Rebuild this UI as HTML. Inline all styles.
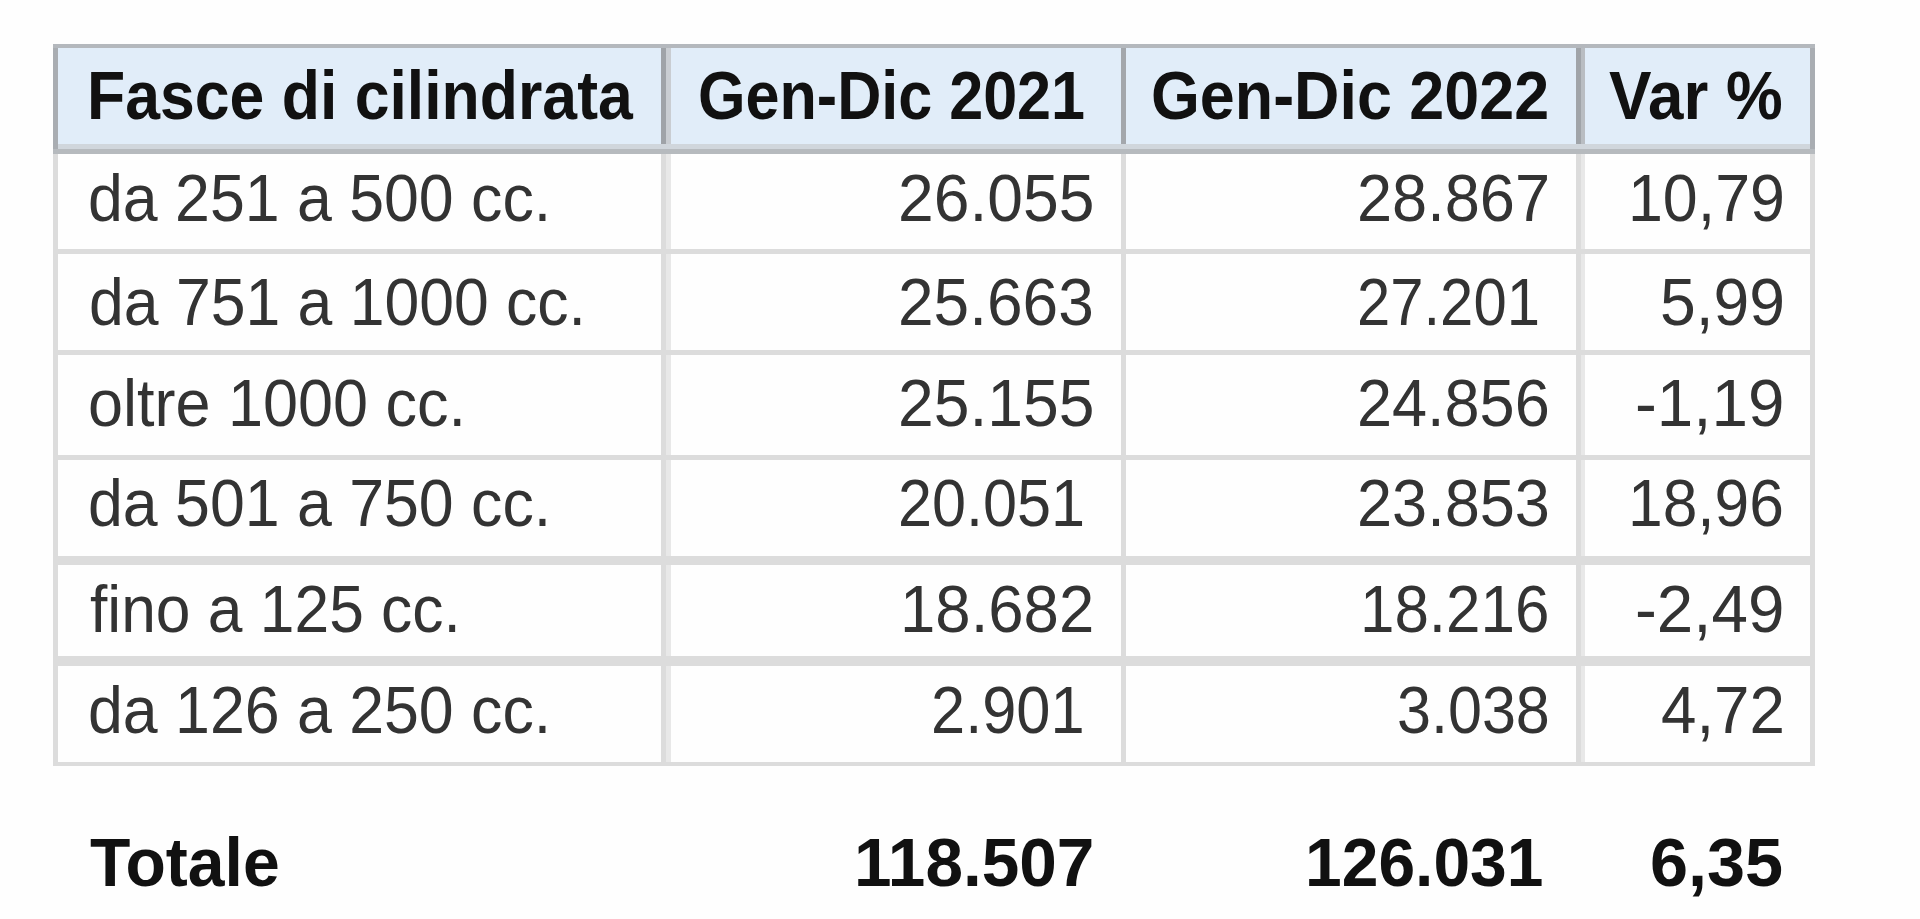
<!DOCTYPE html>
<html><head><meta charset="utf-8"><title>Fasce di cilindrata</title>
<style>
html,body{margin:0;padding:0;width:1920px;height:919px;overflow:hidden;background:#fefefe;}
.r{position:absolute}
.t{position:absolute;white-space:pre;line-height:1;font-family:"Liberation Sans",sans-serif}
</style></head><body>
<div class="r" style="left:53px;top:44px;width:1762px;height:110px;background:#e1edf9"></div>
<div class="r" style="left:53px;top:44px;width:1762px;height:4px;background:#b4b8bd"></div>
<div class="r" style="left:53px;top:48px;width:5px;height:106px;background:#a9adb2"></div>
<div class="r" style="left:1810px;top:48px;width:5px;height:106px;background:#a9adb2"></div>
<div class="r" style="left:661px;top:48px;width:5px;height:106px;background:#9fa3a8"></div>
<div class="r" style="left:666px;top:48px;width:5px;height:106px;background:#c9cdd2"></div>
<div class="r" style="left:1121px;top:48px;width:5px;height:106px;background:#a3a7ac"></div>
<div class="r" style="left:1576px;top:48px;width:5px;height:106px;background:#a0a4a9"></div>
<div class="r" style="left:1581px;top:48px;width:4px;height:106px;background:#b9bdc2"></div>
<div class="r" style="left:58px;top:144px;width:1752px;height:5px;background:#d0d6dc"></div>
<div class="r" style="left:53px;top:149px;width:1762px;height:5px;background:#b6babe"></div>
<div class="r" style="left:53px;top:154px;width:5px;height:612px;background:#dcdcdc"></div>
<div class="r" style="left:1810px;top:154px;width:5px;height:612px;background:#dcdcdc"></div>
<div class="r" style="left:661px;top:154px;width:5px;height:612px;background:#dcdcdc"></div>
<div class="r" style="left:666px;top:154px;width:5px;height:612px;background:#e8e8e8"></div>
<div class="r" style="left:1121px;top:154px;width:5px;height:612px;background:#dcdcdc"></div>
<div class="r" style="left:1576px;top:154px;width:5px;height:612px;background:#dcdcdc"></div>
<div class="r" style="left:1581px;top:154px;width:4px;height:612px;background:#e8e8e8"></div>
<div class="r" style="left:53px;top:249px;width:1762px;height:5px;background:#dcdcdc"></div>
<div class="r" style="left:53px;top:350px;width:1762px;height:5px;background:#dcdcdc"></div>
<div class="r" style="left:53px;top:455px;width:1762px;height:5px;background:#dcdcdc"></div>
<div class="r" style="left:53px;top:556px;width:1762px;height:9px;background:#dcdcdc"></div>
<div class="r" style="left:53px;top:656px;width:1762px;height:10px;background:#dcdcdc"></div>
<div class="r" style="left:53px;top:762px;width:1762px;height:4px;background:#dcdcdc"></div>
<div class="t" style="left:86.93px;top:61.09px;font-size:69px;font-weight:bold;color:#111;transform-origin:0 58.41px;transform:scaleX(0.9065)">Fasce di cilindrata</div>
<div class="t" style="left:697.56px;top:61.09px;font-size:69px;font-weight:bold;color:#111;transform-origin:0 58.41px;transform:scaleX(0.8853)">Gen-Dic 2021</div>
<div class="t" style="left:1151.49px;top:61.09px;font-size:69px;font-weight:bold;color:#111;transform-origin:0 58.41px;transform:scaleX(0.9106)">Gen-Dic 2022</div>
<div class="t" style="left:1608.86px;top:61.09px;font-size:69px;font-weight:bold;color:#111;transform-origin:0 58.41px;transform:scaleX(0.9240)">Var %</div>
<div class="t" style="left:88.49px;top:164.83px;font-size:66px;color:#333333;transform-origin:0 55.87px;transform:scaleX(0.9489)">da 251 a 500 cc.</div>
<div class="t" style="left:897.79px;top:164.83px;font-size:66px;color:#333333;transform-origin:0 55.87px;transform:scaleX(0.9730)">26.055</div>
<div class="t" style="left:1356.84px;top:164.83px;font-size:66px;color:#333333;transform-origin:0 55.87px;transform:scaleX(0.9562)">28.867</div>
<div class="t" style="left:1628.30px;top:164.83px;font-size:66px;color:#333333;transform-origin:0 55.87px;transform:scaleX(0.9498)">10,79</div>
<div class="t" style="left:88.50px;top:269.43px;font-size:66px;color:#333333;transform-origin:0 55.87px;transform:scaleX(0.9469)">da 751 a 1000 cc.</div>
<div class="t" style="left:897.80px;top:269.43px;font-size:66px;color:#333333;transform-origin:0 55.87px;transform:scaleX(0.9699)">25.663</div>
<div class="t" style="left:1357.01px;top:269.43px;font-size:66px;color:#333333;transform-origin:0 55.87px;transform:scaleX(0.9060)">27.201</div>
<div class="t" style="left:1659.93px;top:269.43px;font-size:66px;color:#333333;transform-origin:0 55.87px;transform:scaleX(0.9734)">5,99</div>
<div class="t" style="left:88.48px;top:370.13px;font-size:66px;color:#333333;transform-origin:0 55.87px;transform:scaleX(0.9537)">oltre 1000 cc.</div>
<div class="t" style="left:897.79px;top:370.13px;font-size:66px;color:#333333;transform-origin:0 55.87px;transform:scaleX(0.9730)">25.155</div>
<div class="t" style="left:1356.85px;top:370.13px;font-size:66px;color:#333333;transform-origin:0 55.87px;transform:scaleX(0.9546)">24.856</div>
<div class="t" style="left:1635.45px;top:370.13px;font-size:66px;color:#333333;transform-origin:0 55.87px;transform:scaleX(0.9930)">-1,19</div>
<div class="t" style="left:88.49px;top:470.43px;font-size:66px;color:#333333;transform-origin:0 55.87px;transform:scaleX(0.9489)">da 501 a 750 cc.</div>
<div class="t" style="left:897.94px;top:470.43px;font-size:66px;color:#333333;transform-origin:0 55.87px;transform:scaleX(0.9265)">20.051</div>
<div class="t" style="left:1356.85px;top:470.43px;font-size:66px;color:#333333;transform-origin:0 55.87px;transform:scaleX(0.9556)">23.853</div>
<div class="t" style="left:1628.33px;top:470.43px;font-size:66px;color:#333333;transform-origin:0 55.87px;transform:scaleX(0.9440)">18,96</div>
<div class="t" style="left:90.07px;top:575.63px;font-size:66px;color:#333333;transform-origin:0 55.87px;transform:scaleX(0.9444)">fino a 125 cc.</div>
<div class="t" style="left:900.24px;top:575.63px;font-size:66px;color:#333333;transform-origin:0 55.87px;transform:scaleX(0.9623)">18.682</div>
<div class="t" style="left:1360.36px;top:575.63px;font-size:66px;color:#333333;transform-origin:0 55.87px;transform:scaleX(0.9380)">18.216</div>
<div class="t" style="left:1635.45px;top:575.63px;font-size:66px;color:#333333;transform-origin:0 55.87px;transform:scaleX(0.9930)">-2,49</div>
<div class="t" style="left:88.49px;top:676.63px;font-size:66px;color:#333333;transform-origin:0 55.87px;transform:scaleX(0.9489)">da 126 a 250 cc.</div>
<div class="t" style="left:931.33px;top:676.63px;font-size:66px;color:#333333;transform-origin:0 55.87px;transform:scaleX(0.9299)">2.901</div>
<div class="t" style="left:1396.56px;top:676.63px;font-size:66px;color:#333333;transform-origin:0 55.87px;transform:scaleX(0.9254)">3.038</div>
<div class="t" style="left:1660.91px;top:676.63px;font-size:66px;color:#333333;transform-origin:0 55.87px;transform:scaleX(0.9650)">4,72</div>
<div class="t" style="left:90.34px;top:828.44px;font-size:68px;font-weight:bold;color:#111;transform-origin:0 57.56px;transform:scaleX(0.9719)">Totale</div>
<div class="t" style="left:853.61px;top:828.44px;font-size:68px;font-weight:bold;color:#111;transform-origin:0 57.56px;transform:scaleX(0.9932)">118.507</div>
<div class="t" style="left:1304.51px;top:828.44px;font-size:68px;font-weight:bold;color:#111;transform-origin:0 57.56px;transform:scaleX(0.9701)">126.031</div>
<div class="t" style="left:1650.31px;top:828.44px;font-size:68px;font-weight:bold;color:#111;transform-origin:0 57.56px;transform:scaleX(1.0056)">6,35</div>
</body></html>
